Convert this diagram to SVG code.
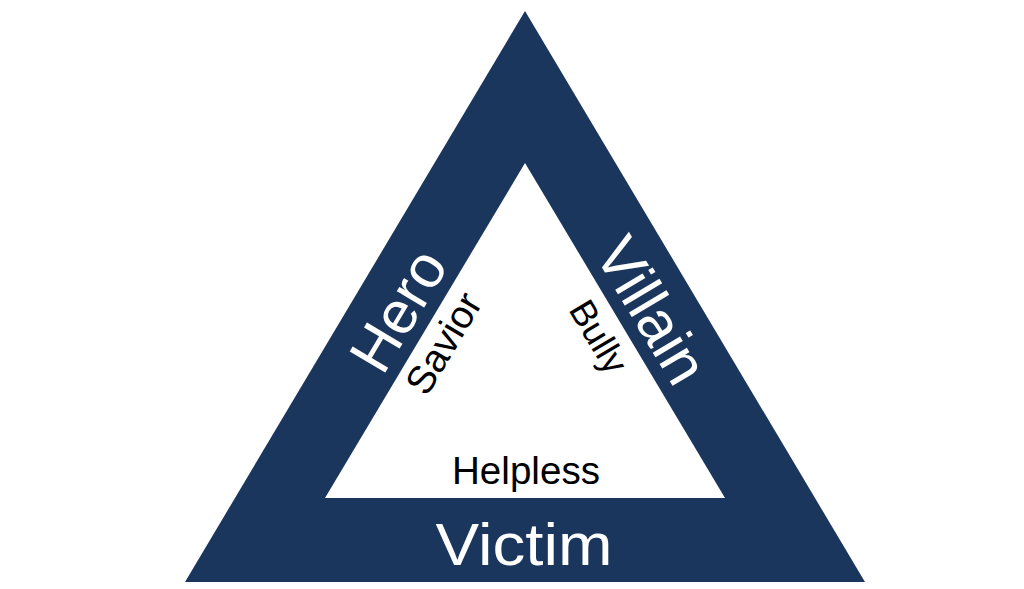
<svg xmlns="http://www.w3.org/2000/svg" width="1024" height="589" viewBox="0 0 1024 589">
<style>
.band{fill:#1b365c}
.inner{fill:#ffffff}
.big{font-family:"Liberation Sans",Arial,sans-serif;font-size:60px;fill:#ffffff;text-anchor:middle}
.small{font-family:"Liberation Sans",Arial,sans-serif;font-size:38px;fill:#000000;text-anchor:middle}
</style>
<rect width="1024" height="589" fill="#ffffff"/>
<g id="triangle">
<polygon class="band" points="525,11 865,582 185,582"/>
<polygon class="inner" points="525,163 725,498 325,498"/>
</g>
<g id="connectors"></g>
<g id="hero"><text class="big" transform="translate(416,321) rotate(-59.2)">Hero</text></g>
<g id="villain"><text class="big" transform="translate(634,321) rotate(59.2)">Villain</text></g>
<g id="victim"><text class="big" x="524" y="565" textLength="177" lengthAdjust="spacingAndGlyphs">Victim</text></g>
<g id="savior"><text class="small" style="font-size:39px" transform="translate(455,350) rotate(-59.2)">Savior</text></g>
<g id="bully"><text class="small" style="font-size:36px" transform="translate(588,343) rotate(59.2)">Bully</text></g>
<g id="helpless"><text class="small" style="font-size:39px" x="526" y="484" textLength="148" lengthAdjust="spacingAndGlyphs">Helpless</text></g>
</svg>
